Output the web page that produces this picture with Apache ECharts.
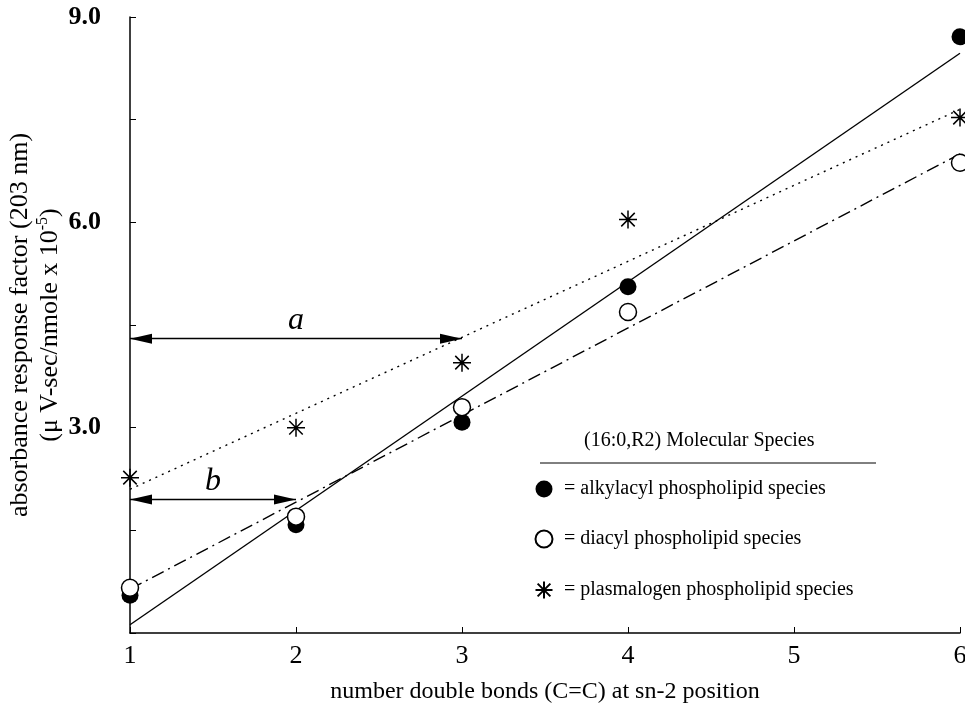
<!DOCTYPE html>
<html>
<head>
<meta charset="utf-8">
<script src="https://cdn.jsdelivr.net/npm/echarts@6/dist/echarts.min.js"></script>
<style>
  html, body { margin: 0; padding: 0; background: #fff; }
  #chart { width: 965px; height: 707px; }
</style>
</head>
<body>
<div id="chart"></div>
<script>
// number of double bonds at sn-2
const doubleBonds = [1, 2, 3, 4, 6]
// measured response factors
const alkylacyl = [0.55, 1.58, 3.08, 5.06, 8.71]
const diacyl = [0.66, 1.70, 3.30, 4.69, 6.87]
const plasmalogen = [2.27, 3.00, 3.95, 6.04, 7.53]
// fitted lines, end points
const fitX = [1, 6]
const alkylacylFit = [0.12, 8.47]
const diacylFit = [0.64, 7.0]
const plasmalogenFit = [2.1, 7.65]
// the a / b markers
const arrowA = { y: 4.3, from: 1, to: 3, label: 'a' }
const arrowB = { y: 1.95, from: 1, to: 2, label: 'b' }
const yTickLabels = ['3.0', '6.0', '9.0']

const seriesNames = [
  'alkylacyl phospholipid species',
  'diacyl phospholipid species',
  'plasmalogen phospholipid species'
]
const starPath = 'path://M0,-10L0,10M-10,0L10,0M-7.5,-7.5L7.5,7.5M-7.5,7.5L7.5,-7.5'
const serif = 'Liberation Serif'

const pairs = (xs, ys) => xs.map((x, i) => [x, ys[i]])

const chart = echarts.init(document.getElementById('chart'))

function fitLine(name, ys, type) {
  return {
    name: name,
    type: 'line',
    data: pairs(fitX, ys),
    showSymbol: false,
    silent: true,
    z: 1,
    lineStyle: { color: '#000', width: 1.4, type: type }
  }
}

function arrow(a) {
  return [
    { name: a.label, coord: [a.from, a.y], symbolOffset: [0, '50%'] },
    { coord: [a.to, a.y], symbolOffset: [0, '50%'] }
  ]
}

chart.setOption({
  animation: false,
  textStyle: { fontFamily: serif },
  grid: { left: 130, right: 5, top: 17, bottom: 74, containLabel: false, outerBoundsMode: 'none' },
  xAxis: {
    type: 'value',
    min: 1,
    max: 6,
    interval: 1,
    name: 'number double bonds (C=C) at sn-2 position',
    nameLocation: 'middle',
    nameGap: 47,
    nameTextStyle: { fontFamily: serif, fontSize: 24, color: '#000' },
    axisLine: { lineStyle: { color: '#000', width: 1.5 } },
    axisTick: { inside: true, length: 6, lineStyle: { color: '#000' } },
    axisLabel: { fontFamily: serif, fontSize: 26, color: '#000', margin: 10 },
    splitLine: { show: false }
  },
  yAxis: {
    type: 'value',
    min: 0,
    max: 9,
    interval: 1.5,
    name: 'absorbance response factor (203 nm)\n(μ V-sec/nmole x 10{sup|-5})',
    nameLocation: 'middle',
    nameRotate: 90,
    nameGap: 65,
    nameMoveOverlap: false,
    nameTextStyle: {
      fontFamily: serif,
      fontSize: 26,
      lineHeight: 30,
      color: '#000',
      rich: {
        sup: { fontFamily: serif, fontSize: 16, verticalAlign: 'top', lineHeight: 30, padding: [0, 0, 12, 0] }
      }
    },
    axisLine: { show: true, lineStyle: { color: '#000', width: 1.5 } },
    axisTick: { inside: true, length: 6, lineStyle: { color: '#000' } },
    axisLabel: {
      fontFamily: serif,
      fontSize: 26,
      fontWeight: 'bold',
      color: '#000',
      margin: 29,
      formatter: v => {
        const s = v.toFixed(1)
        return yTickLabels.indexOf(s) >= 0 ? s : ''
      }
    },
    splitLine: { show: false }
  },
  legend: {
    orient: 'vertical',
    left: 528,
    top: 474,
    itemWidth: 30,
    itemHeight: 17,
    itemGap: 30,
    data: seriesNames,
    formatter: '= {name}',
    textStyle: { fontFamily: serif, fontSize: 20, color: '#000' }
  },
  graphic: [
    {
      type: 'text',
      left: 584,
      top: 431,
      style: { text: '(16:0,R2) Molecular Species', font: '20px "Liberation Serif"', fill: '#000' }
    },
    {
      type: 'line',
      shape: { x1: 540, y1: 463, x2: 876, y2: 463 },
      style: { stroke: '#000', lineWidth: 1 }
    }
  ],
  series: [
    fitLine('alkylacyl fit', alkylacylFit, 'solid'),
    fitLine('diacyl fit', diacylFit, [13, 5, 2, 5]),
    fitLine('plasmalogen fit', plasmalogenFit, [2, 5]),
    {
      name: 'arrows',
      type: 'line',
      data: [],
      markLine: {
        silent: true,
        symbol: ['triangle', 'triangle'],
        symbolSize: [10, 22],
        lineStyle: { color: '#000', width: 1.4, type: 'solid' },
        label: {
          show: true,
          position: 'insideMiddleTop',
          distance: 2,
          fontFamily: serif,
          fontStyle: 'italic',
          fontSize: 32,
          color: '#000'
        },
        data: [arrow(arrowA), arrow(arrowB)]
      }
    },
    {
      name: seriesNames[0],
      type: 'scatter',
      data: pairs(doubleBonds, alkylacyl),
      symbol: 'circle',
      symbolSize: 17,
      z: 3,
      itemStyle: { color: '#000', opacity: 1 }
    },
    {
      name: seriesNames[1],
      type: 'scatter',
      data: pairs(doubleBonds, diacyl),
      symbol: 'circle',
      symbolSize: 17,
      z: 4,
      itemStyle: { color: '#fff', borderColor: '#000', borderWidth: 1.5, opacity: 1 }
    },
    {
      name: seriesNames[2],
      type: 'scatter',
      data: pairs(doubleBonds, plasmalogen),
      symbol: starPath,
      symbolSize: 18,
      z: 5,
      itemStyle: { color: 'none', borderColor: '#000', borderWidth: 1.5, opacity: 1 }
    }
  ]
})
</script>
</body>
</html>
